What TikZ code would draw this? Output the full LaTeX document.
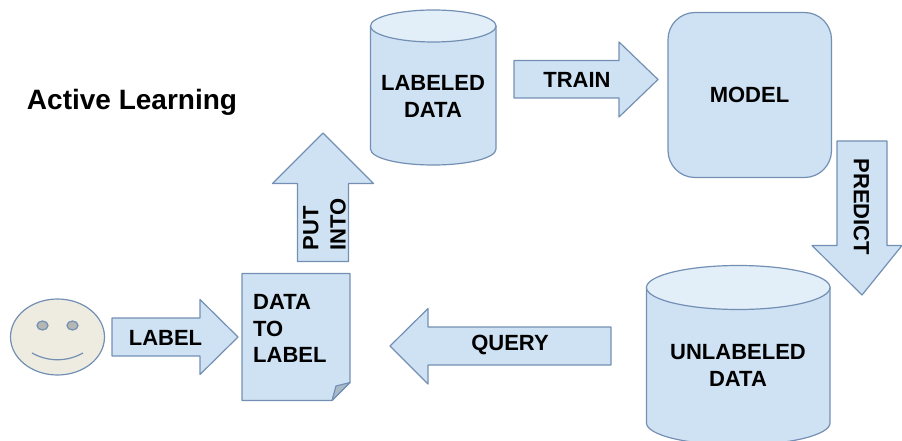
\documentclass[tikz,border=0pt]{standalone}
\usepackage{fontspec}
\setmainfont{Liberation Sans}
\definecolor{boxfill}{HTML}{CFE2F3}
\definecolor{boxtop}{HTML}{E2EEF8}
\definecolor{boxline}{HTML}{7390B4}
\definecolor{facefill}{HTML}{EEECE1}
\definecolor{eyefill}{HTML}{B5B7B3}
\definecolor{foldfill}{HTML}{A8BAC8}
\tikzset{
  shapestyle/.style={draw=boxline,fill=boxfill,line width=1.2pt,line join=round},
  caption/.style={font=\fontsize{22}{26.5}\selectfont\bfseries,text=black,inner sep=0pt,align=center},
}
\begin{document}
\begin{tikzpicture}[x=1pt,y=-1pt]
\useasboundingbox (0,0) rectangle (902,441);
% face
\draw[shapestyle,fill=facefill] (57.5,337) ellipse [x radius=47,y radius=38];
\draw[shapestyle,fill=eyefill] (42.5,325.5) ellipse [x radius=5.5,y radius=4.5];
\draw[shapestyle,fill=eyefill] (72.5,325.5) ellipse [x radius=5.5,y radius=4.5];
\draw[boxline,line width=1.2pt] (32,353) .. controls (48,362) and (67,362) .. (83,353);
% LABEL arrow
\draw[shapestyle] (112,318) -- (200,318) -- (200,299.5) -- (238,337) -- (200,374.5) -- (200,356) -- (112,356) -- cycle;
% document
\draw[shapestyle] (242,273.5) -- (350,273.5) -- (350,382.5) -- (332,400.5) -- (242,400.5) -- cycle;
\draw[shapestyle,fill=foldfill] (332,400.5) -- (336,386) -- (350,382.5) -- cycle;
% PUT INTO arrow
\draw[shapestyle] (297.5,261.5) -- (297.5,183.5) -- (272.5,183.5) -- (323,133) -- (373.5,183.5) -- (348.5,183.5) -- (348.5,261.5) -- cycle;
% labeled cylinder
\draw[shapestyle] (370.5,26) -- (370.5,149) .. controls (370.5,158) and (398,165) .. (433.25,165) .. controls (468,165) and (496,158) .. (496,149) -- (496,26) -- cycle;
\draw[shapestyle,fill=boxtop] (433.25,26) ellipse [x radius=62.75,y radius=16];
% TRAIN arrow
\draw[shapestyle] (514,60.5) -- (619,60.5) -- (619,42) -- (658,79.5) -- (619,117) -- (619,98) -- (514,98) -- cycle;
% model
\draw[shapestyle,rounded corners=27pt] (668,12.5) rectangle (831.5,177.5);
% PREDICT arrow
\draw[shapestyle] (837,141) -- (887,141) -- (887,245.5) -- (902,245.5) -- (862,295) -- (812,245.5) -- (837,245.5) -- cycle;
% unlabeled cylinder
\draw[shapestyle] (646.5,287.5) -- (646.5,423) .. controls (646.5,435) and (687,445) .. (738.25,445) .. controls (789,445) and (830,435) .. (830,423) -- (830,287.5) -- cycle;
\draw[shapestyle,fill=boxtop] (738.25,287.5) ellipse [x radius=91.75,y radius=22];
% QUERY arrow
\draw[shapestyle] (611,327) -- (428,327) -- (428,308.5) -- (390,346) -- (428,384) -- (428,365) -- (611,365) -- cycle;
% texts
\node[caption,font=\fontsize{28}{32}\selectfont\bfseries] (title) at (132,102.5) {Active Learning};
\node[caption] (tlabel) at (165.5,337.5) {LABEL};
\node[caption,align=left,anchor=west] (tdoc) at (253,328.5) {DATA\\TO\\LABEL};
\node[caption,rotate=90,anchor=west] (tput) at (311,250.5) {PUT};
\node[caption,rotate=90,anchor=west] (tinto) at (338,250.5) {INTO};
\node[caption] (tlabeled) at (433,96.5) {LABELED\\DATA};
\node[caption] (ttrain) at (577,79.5) {TRAIN};
\node[caption] (tmodel) at (749.5,95) {MODEL};
\node[caption,rotate=-90] (tpredict) at (861.5,207) {PREDICT};
\node[caption] (tunlabeled) at (738,365.5) {UNLABELED\\DATA};
\node[caption] (tquery) at (510,345) {QUERY};
\end{tikzpicture}
\end{document}
